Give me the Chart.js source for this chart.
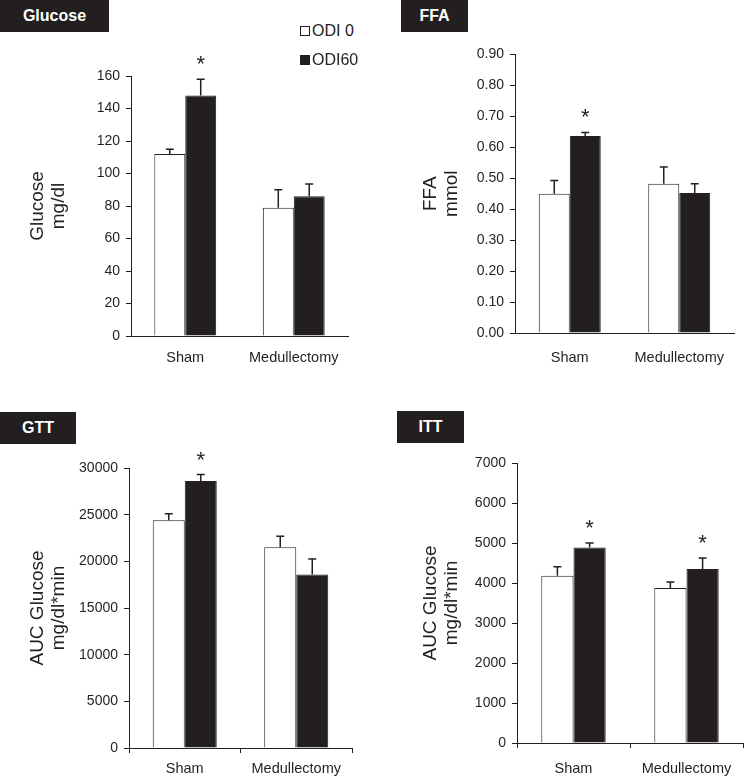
<!DOCTYPE html>
<html>
<head>
<meta charset="utf-8">
<script src="https://cdn.jsdelivr.net/npm/chart.js@4.4.1/dist/chart.umd.min.js"></script>
<style>
  body { margin: 0; background: #fff; font-family: "Liberation Sans", Arial, sans-serif; }
  #wrap { position: relative; width: 744px; height: 776px; overflow: hidden; }
  #wrap canvas { position: absolute; }
  .tag { position: absolute; background: #231f20; color: #fff; font-weight: bold; font-size: 16px;
         height: 32px; line-height: 32px; text-align: center; z-index: 2; }
  .legend { position: absolute; left: 300px; font-size: 16px; color: #231f20; z-index: 2; line-height: 18px; }
  .legend span.box { display: inline-block; width: 8px; height: 8px; border: 1px solid #231f20;
                     margin-right: 2px; vertical-align: 0px; }
</style>
</head>
<body>
<div id="wrap">
  <div class="tag" style="left:0;top:0;width:109px">Glucose</div>
  <div class="tag" style="left:401px;top:0;width:67px">FFA</div>
  <div class="tag" style="left:0;top:412px;width:76px">GTT</div>
  <div class="tag" style="left:397px;top:411px;width:67px">ITT</div>
  <div class="legend" style="top:22px"><span class="box" style="background:#fff"></span>ODI 0</div>
  <div class="legend" style="top:51px"><span class="box" style="background:#231f20"></span>ODI60</div>
  <canvas id="glucose"></canvas>
  <canvas id="ffa"></canvas>
  <canvas id="gtt"></canvas>
  <canvas id="itt"></canvas>
</div>
<script>
const categories = ['Sham', 'Medullectomy'];
const seriesNames = ['ODI 0', 'ODI60'];

// Glucose (mg/dl)
const glucoseOdi0 = [112, 79];
const glucoseOdi60 = [148, 86];
const glucoseOdi0Sem = [3, 11];
const glucoseOdi60Sem = [10, 7.5];
const glucoseStars0 = [false, false];
const glucoseStars60 = [true, false];

// FFA (mmol)
const ffaOdi0 = [0.45, 0.482];
const ffaOdi60 = [0.636, 0.452];
const ffaOdi0Sem = [0.043, 0.054];
const ffaOdi60Sem = [0.012, 0.03];
const ffaStars0 = [false, false];
const ffaStars60 = [true, false];

// GTT, AUC glucose (mg/dl*min)
const gttOdi0 = [24400, 21500];
const gttOdi60 = [28600, 18600];
const gttOdi0Sem = [700, 1200];
const gttOdi60Sem = [700, 1650];
const gttStars0 = [false, false];
const gttStars60 = [true, false];

// ITT, AUC glucose (mg/dl*min)
const ittOdi0 = [4180, 3875];
const ittOdi60 = [4890, 4350];
const ittOdi0Sem = [225, 150];
const ittOdi60Sem = [110, 275];
const ittStars0 = [false, false];
const ittStars60 = [true, true];

const ink = '#231f20';
const family = '"Liberation Sans", Arial, sans-serif';

// error bars (upper only) and significance stars
const errorBarPlugin = {
    id: 'errorBars',
    afterDatasetsDraw(chart) {
        const ctx = chart.ctx;
        const yScale = chart.scales.y;
        chart.data.datasets.forEach((ds, di) => {
            const meta = chart.getDatasetMeta(di);
            meta.data.forEach((bar, i) => {
                const top = yScale.getPixelForValue(ds.data[i] + ds.sem[i]);
                ctx.save();
                ctx.strokeStyle = ink;
                ctx.lineWidth = 1.5;
                ctx.beginPath();
                ctx.moveTo(bar.x, bar.y);
                ctx.lineTo(bar.x, top);
                ctx.moveTo(bar.x - 4, top);
                ctx.lineTo(bar.x + 4, top);
                ctx.stroke();
                if (ds.stars[i]) {
                    ctx.fillStyle = ink;
                    ctx.font = '22px ' + family;
                    ctx.textAlign = 'center';
                    ctx.textBaseline = 'alphabetic';
                    ctx.fillText('*', bar.x, top - 8);
                }
                ctx.restore();
            });
        });
    }
};

function makePanel(p) {
    const canvas = document.getElementById(p.id);
    canvas.style.left = p.left + 'px';
    canvas.style.top = p.top + 'px';
    canvas.width = p.width;
    canvas.height = p.height;
    canvas.style.width = p.width + 'px';
    canvas.style.height = p.height + 'px';

    const data = {
        labels: categories,
        datasets: [
            {
                label: seriesNames[0],
                data: p.odi0,
                sem: p.odi0Sem,
                stars: p.stars0,
                backgroundColor: '#fff',
                borderColor: ink,
                borderWidth: 1
            },
            {
                label: seriesNames[1],
                data: p.odi60,
                sem: p.odi60Sem,
                stars: p.stars60,
                backgroundColor: ink,
                borderColor: ink,
                borderWidth: 1
            }
        ]
    };

    const config = {
        type: 'bar',
        data: data,
        plugins: [errorBarPlugin],
        options: {
            responsive: false,
            animation: false,
            layout: { padding: { top: p.padTop, right: p.padRight, left: 0, bottom: 0 } },
            plugins: { legend: { display: false }, tooltip: { enabled: false } },
            datasets: { bar: { categoryPercentage: p.catPct, barPercentage: 1 } },
            scales: {
                x: {
                    grid: {
                        display: true, drawOnChartArea: false, offset: true,
                        drawTicks: p.xTick > 0, tickLength: p.xTick, color: ink
                    },
                    border: { color: ink, width: 1 },
                    ticks: { color: ink, font: { size: 14.5, family: family }, padding: p.xPad, maxRotation: 0 },
                    afterFit(s) { s.height = p.xHeight; }
                },
                y: {
                    min: 0,
                    max: p.max,
                    ticks: {
                        stepSize: p.step,
                        color: ink,
                        padding: 6,
                        font: { size: 14, family: family },
                        callback: v => v.toFixed(p.decimals)
                    },
                    grid: { drawOnChartArea: false, tickLength: 5, color: ink },
                    border: { color: ink, width: 1 },
                    title: {
                        display: true,
                        text: p.title,
                        color: ink,
                        font: { size: 19, family: family, lineHeight: 1.08 },
                        padding: { top: p.titlePad, bottom: 0 }
                    },
                    afterFit(s) { s.width = p.yWidth; }
                }
            }
        }
    };
    new Chart(canvas.getContext('2d'), config);
}

makePanel({
    id: 'glucose', left: 0, top: 40, width: 360, height: 336,
    padTop: 36, padRight: 12, yWidth: 131, xHeight: 40, xTick: 0, xPad: 13,
    catPct: 0.57, max: 160, step: 20, decimals: 0, titlePad: 28,
    title: ['Glucose', 'mg/dl'],
    odi0: glucoseOdi0, odi60: glucoseOdi60, odi0Sem: glucoseOdi0Sem, odi60Sem: glucoseOdi60Sem,
    stars0: glucoseStars0, stars60: glucoseStars60
});

makePanel({
    id: 'ffa', left: 372, top: 40, width: 372, height: 336,
    padTop: 14, padRight: 10, yWidth: 143, xHeight: 43, xTick: 0, xPad: 16,
    catPct: 0.566, max: 0.9, step: 0.1, decimals: 2, titlePad: 49,
    title: ['FFA', 'mmol'],
    odi0: ffaOdi0, odi60: ffaOdi60, odi0Sem: ffaOdi0Sem, odi60Sem: ffaOdi60Sem,
    stars0: ffaStars0, stars60: ffaStars60
});

makePanel({
    id: 'gtt', left: 0, top: 440, width: 360, height: 336,
    padTop: 28, padRight: 8, yWidth: 129, xHeight: 28, xTick: 5, xPad: 7,
    catPct: 0.574, max: 30000, step: 5000, decimals: 0, titlePad: 28,
    title: ['AUC Glucose', 'mg/dl*min'],
    odi0: gttOdi0, odi60: gttOdi60, odi0Sem: gttOdi0Sem, odi60Sem: gttOdi60Sem,
    stars0: gttStars0, stars60: gttStars60
});

makePanel({
    id: 'itt', left: 372, top: 440, width: 372, height: 336,
    padTop: 23, padRight: 1, yWidth: 145, xHeight: 33, xTick: 5, xPad: 12,
    catPct: 0.57, max: 7000, step: 1000, decimals: 0, titlePad: 49,
    title: ['AUC Glucose', 'mg/dl*min'],
    odi0: ittOdi0, odi60: ittOdi60, odi0Sem: ittOdi0Sem, odi60Sem: ittOdi60Sem,
    stars0: ittStars0, stars60: ittStars60
});
</script>
</body>
</html>
